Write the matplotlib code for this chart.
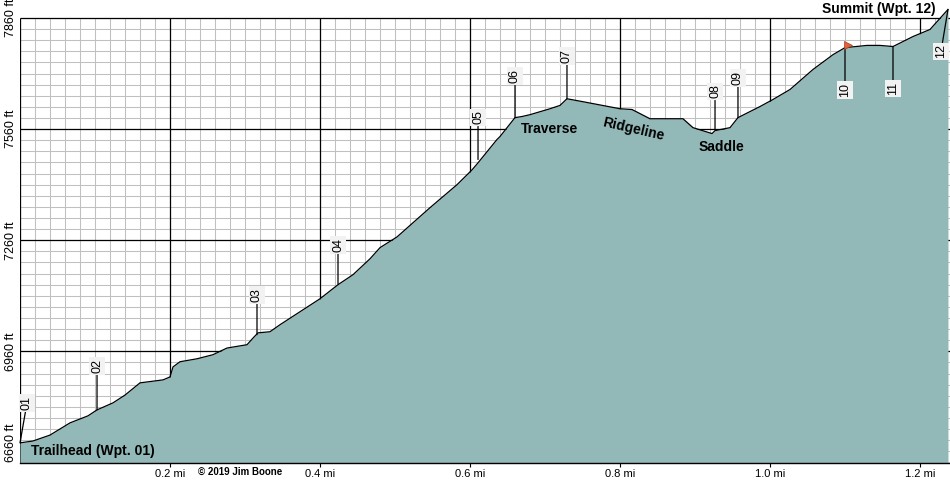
import numpy as np
import matplotlib
matplotlib.use("Agg")
import matplotlib.pyplot as plt
import matplotlib.transforms as mtransforms

plt.rcParams['font.family'] = ['Liberation Sans', 'DejaVu Sans']

# Elevation profile (distance in miles, elevation in feet)
dist_mi = [0.000, 0.0173, 0.040, 0.0667, 0.0907, 0.1027, 0.124, 0.140, 0.1467, 0.160,
           0.1907, 0.200, 0.204, 0.2133, 0.236, 0.2573, 0.276, 0.3027, 0.3107, 0.3173,
           0.3333, 0.3467, 0.400, 0.424, 0.444, 0.4667, 0.480, 0.5027, 0.5467, 0.5827,
           0.6027, 0.6107, 0.636, 0.640, 0.660, 0.6693, 0.680, 0.7067, 0.720, 0.7293,
           0.7507, 0.800, 0.816, 0.840, 0.884, 0.8973, 0.9227, 0.9267, 0.9467, 0.9573,
           0.9867, 1.004, 1.0267, 1.0573, 1.084, 1.100, 1.1293, 1.1467, 1.164, 1.1907,
           1.2133, 1.2373]
elev_ft = [6713, 6718, 6734, 6767, 6786, 6802, 6821, 6842, 6853, 6875,
           6883, 6891, 6918, 6932, 6940, 6951, 6969, 6978, 6996, 7010,
           7013, 7032, 7102, 7140, 7167, 7210, 7240, 7269, 7348, 7410,
           7450, 7469, 7532, 7540, 7591, 7594, 7599, 7615, 7624, 7642,
           7634, 7615, 7613, 7588, 7588, 7564, 7548, 7556, 7564, 7591,
           7621, 7640, 7667, 7721, 7761, 7780, 7786, 7786, 7783, 7810,
           7829, 7883]

# Waypoints
wpt_names = ['01', '02', '03', '04', '05', '06', '07', '08', '09', '10', '11', '12']
wpt_mi = [0.000, 0.1027, 0.316, 0.424, 0.6107, 0.660, 0.7293, 0.9267, 0.9573, 1.100, 1.164, 1.2373]
wpt_ft = [6713, 6802, 7005, 7142, 7478, 7591, 7642, 7559, 7591, 7780, 7783, 7883]
# label offset in pixels (dx, dy)
wpt_off = [(7, 40), (0, 44), (0, 40), (0, 39), (0, 42), (0, 42), (0, 43), (0, 38), (0, 40),
           (0, -42), (0, -42), (-7, -42)]

y_ticks = [6660, 6960, 7260, 7560, 7860]
y_labels = ['6660 ft', '6960 ft', '7260 ft', '7560 ft', '7860 ft']
x_ticks = [0.2, 0.4, 0.6, 0.8, 1.0, 1.2]
x_labels = ['0.2 mi', '0.4 mi', '0.6 mi', '0.8 mi', '1.0 mi', '1.2 mi']

fill_color = '#93b8b8'

fig = plt.figure(figsize=(9.5, 4.8), dpi=100)
ax = fig.add_axes([20 / 950, 17.5 / 480, 930 / 950, 462.5 / 480])
ax.set_xlim(0, 1.24)
ax.set_ylim(6660, 7908.6)

# grid, stops at the top elevation line
minor_x = np.arange(0, 1.2401, 0.02)
minor_y = np.arange(6660, 7861, 30)
ax.vlines(minor_x, 6660, 7860, color='#c0c0c0', lw=0.75, zorder=1)
ax.hlines(minor_y, 0, 1.24, color='#c0c0c0', lw=0.75, zorder=1)
ax.vlines([0] + x_ticks, 6660, 7860, color='black', lw=0.9, zorder=2)
ax.hlines(y_ticks, 0, 1.24, color='black', lw=0.9, zorder=2)

# profile
ax.fill_between(dist_mi, elev_ft, 6660, color=fill_color, lw=0, zorder=3)
ax.plot(dist_mi, elev_ft, color='black', lw=0.9, zorder=4)

# waypoint labels
for name, x, y, (dx, dy) in zip(wpt_names, wpt_mi, wpt_ft, wpt_off):
    ax.annotate(name, xy=(x, y), xytext=(dx, dy), textcoords='offset pixels',
                rotation=90, ha='center', va='center', fontsize=9, zorder=6,
                bbox=dict(boxstyle='square,pad=0.15', fc='#f2f2f2', ec='none'),
                arrowprops=dict(arrowstyle='-', color='black', lw=0.9,
                                shrinkA=0, shrinkB=0))

# flag at waypoint 10
flag_tr = mtransforms.offset_copy(ax.transData, fig=fig, x=3, y=3, units='dots')
ax.plot(wpt_mi[9], wpt_ft[9], marker='>', ms=6, color='#e2613a', mec='#a04020',
        mew=0.5, transform=flag_tr, zorder=7)

# place names
ax.text(0.0147, 6691, 'Trailhead (Wpt. 01)', fontsize=10, fontweight='bold',
        ha='left', va='center', zorder=6)
ax.text(1.1453, 7883, 'Summit (Wpt. 12)', fontsize=10, fontweight='bold',
        ha='center', va='center', zorder=6)
ax.text(0.706, 7561, 'Traverse', fontsize=10, fontweight='bold',
        ha='center', va='center', zorder=6)
ax.text(0.8173, 7561, 'Ridgeline', fontsize=10, fontweight='bold', rotation=-13,
        ha='center', va='center', zorder=6)
ax.text(0.9347, 7513, 'Saddle', fontsize=10, fontweight='bold',
        ha='center', va='center', zorder=6)
ax.text(0.294, -0.0205, '\u00a9 2019 Jim Boone', fontsize=7, fontweight='bold',
        ha='center', va='center', transform=ax.get_xaxis_transform(), clip_on=False)

# axes
for side in ['top', 'right', 'left']:
    ax.spines[side].set_visible(False)
ax.spines['bottom'].set_linewidth(1.0)
ax.spines['bottom'].set_zorder(8)

ax.set_xticks(x_ticks)
ax.set_xticklabels(x_labels, fontsize=8)
ax.tick_params(axis='x', length=3, width=0.8, pad=1.5, color='black')

ax.set_yticks(y_ticks)
ax.set_yticklabels(y_labels, fontsize=9, rotation=90, va='center')
ax.tick_params(axis='y', length=0, pad=2.5)
ax.get_yticklabels()[0].set_va('bottom')

fig.savefig('out.png', dpi=100)
